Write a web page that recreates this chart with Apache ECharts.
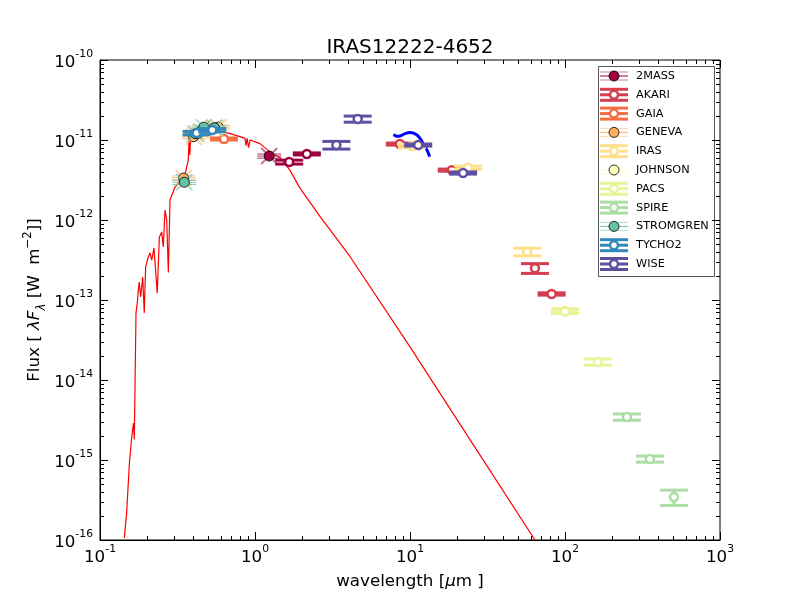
<!DOCTYPE html>
<html>
<head>
<meta charset="utf-8">
<script src="https://cdn.jsdelivr.net/npm/echarts@6/dist/echarts.min.js"></script>
<style>
  html, body { margin: 0; background: #fff; }
  #main { width: 800px; height: 600px; }
</style>
</head>
<body>
<div id="main"></div>
<script>
// photometry: wavelength [um], flux [W m-2], flux error, fitted (1 = open symbol)
const surveys = ["2MASS", "AKARI", "GAIA", "GENEVA", "IRAS", "JOHNSON", "PACS", "SPIRE", "STROMGREN", "TYCHO2", "WISE"];
const colors = ["#9e0142", "#d53e4f", "#f46d43", "#fdae61", "#fee08b", "#ffffbf", "#e6f598", "#abdda4", "#66c2a5", "#3288bd", "#5e4fa2"];

const wave2mass = [1.235, 1.662, 2.159];
const flux2mass = [6.3e-12, 5.3e-12, 6.7e-12];
const err2mass = [0.38e-12, 0.3e-12, 0.2e-12];
const fit2mass = [0, 1, 1];

const waveAkari = [8.6, 18.6, 64, 82];
const fluxAkari = [8.9e-12, 4.2e-12, 2.5e-13, 1.19e-13];
const errAkari = [0.27e-12, 0.13e-12, 0.35e-13, 0.04e-13];
const fitAkari = [1, 1, 1, 1];

const waveGaia = [0.505, 0.631];
const fluxGaia = [1.35e-11, 1.03e-11];
const errGaia = [0.04e-11, 0.03e-11];
const fitGaia = [1, 1];

const waveGeneva = [0.346, 0.402, 0.423, 0.448, 0.54, 0.551, 0.58];
const fluxGeneva = [3.35e-12, 1.1e-11, 1.2e-11, 1.3e-11, 1.41e-11, 1.41e-11, 1.45e-11];
const errGeneva = [0.2e-12, 0.06e-11, 0.06e-11, 0.07e-11, 0.08e-11, 0.08e-11, 0.08e-11];
const fitGeneva = [0, 0, 0, 0, 0, 0, 0];

const waveIras = [10.3, 23.7, 57, 100];
const fluxIras = [8.4e-12, 4.5e-12, 4.0e-13, 7.3e-14];
const errIras = [0.4e-12, 0.22e-12, 0.44e-13, 0.44e-14];
const fitIras = [1, 1, 1, 1];

const waveJohnson = [0.44, 0.55];
const fluxJohnson = [1.25e-11, 1.4e-11];
const errJohnson = [0.07e-11, 0.08e-11];
const fitJohnson = [0, 0];

const wavePacs = [100, 163];
const fluxPacs = [7.2e-14, 1.68e-14];
const errPacs = [0.36e-14, 0.15e-14];
const fitPacs = [1, 1];

const waveSpire = [251, 353, 505];
const fluxSpire = [3.45e-15, 1.03e-15, 3.45e-16];
const errSpire = [0.31e-15, 0.09e-15, 0.75e-16];
const fitSpire = [1, 1, 1];

const waveStromgren = [0.35, 0.411, 0.467, 0.547];
const fluxStromgren = [2.96e-12, 1.2e-11, 1.45e-11, 1.42e-11];
const errStromgren = [0.18e-12, 0.07e-11, 0.08e-11, 0.08e-11];
const fitStromgren = [0, 0, 0, 0];

const waveTycho = [0.42, 0.53];
const fluxTycho = [1.22e-11, 1.33e-11];
const errTycho = [0.06e-11, 0.06e-11];
const fitTycho = [1, 1];

const waveWise = [3.35, 4.6, 11.3, 22];
const fluxWise = [8.65e-12, 1.83e-11, 8.65e-12, 3.87e-12];
const errWise = [0.95e-12, 0.16e-11, 0.26e-12, 0.12e-12];
const fitWise = [1, 1, 1, 1];

// model SED (red) and IR spectrum (blue)
const modelWave = [0.1435, 0.1486, 0.1545, 0.160, 0.163, 0.1645, 0.1665, 0.1707, 0.174, 0.1765, 0.179, 0.183, 0.1886, 0.193, 0.197, 0.205, 0.210, 0.2157, 0.223, 0.229, 0.234, 0.2415, 0.250, 0.256, 0.2627, 0.2694, 0.276, 0.283, 0.2944, 0.305, 0.315, 0.328, 0.353, 0.371, 0.377, 0.380, 0.385, 0.41, 0.44, 0.51, 0.59, 0.69, 0.80, 0.862, 0.875, 0.89, 0.91, 0.93, 0.956, 1.077, 1.25, 1.45, 1.68, 1.95, 2.63, 4.10, 10, 28.3, 64];
const modelFlux = [1.06e-16, 2.2e-16, 8.7e-16, 1.9e-15, 1.8e-15, 2.9e-15, 1.8e-15, 6.9e-14, 9.2e-14, 1.3e-13, 1.68e-13, 1.09e-13, 1.94e-13, 6.9e-14, 2.59e-13, 3.45e-13, 3.87e-13, 3.16e-13, 4.47e-13, 4.6e-13, 1.22e-13, 6.1e-13, 7.1e-13, 4.6e-13, 1.33e-12, 1.0e-12, 2.2e-13, 1.78e-12, 2.17e-12, 2.59e-12, 2.74e-12, 3.16e-12, 3.65e-12, 5.6e-12, 1.22e-11, 6.5e-12, 1.2e-11, 1.3e-11, 1.4e-11, 1.45e-11, 1.3e-11, 1.2e-11, 1.1e-11, 1.05e-11, 8.5e-12, 1.05e-11, 8.0e-12, 1.0e-11, 9.5e-12, 9.0e-12, 7.1e-12, 6.0e-12, 4.2e-12, 2.5e-12, 1.1e-12, 3.5e-13, 2.6e-14, 1.15e-15, 1e-16];
const irsWave = [7.8, 8.0, 8.3, 8.7, 9.3, 10, 10.6, 11.3, 11.8, 12.3, 12.9, 13.4];
const irsFlux = [1.16e-11, 1.14e-11, 1.11e-11, 1.13e-11, 1.2e-11, 1.24e-11, 1.21e-11, 1.12e-11, 1.0e-11, 8.7e-12, 7.4e-12, 6.2e-12];

// ticks
const xMajor = [0.1, 1, 10, 100, 1000];
const yMajor = [1e-16, 1e-15, 1e-14, 1e-13, 1e-12, 1e-11, 1e-10];

const phot = [
  [wave2mass, flux2mass, err2mass, fit2mass],
  [waveAkari, fluxAkari, errAkari, fitAkari],
  [waveGaia, fluxGaia, errGaia, fitGaia],
  [waveGeneva, fluxGeneva, errGeneva, fitGeneva],
  [waveIras, fluxIras, errIras, fitIras],
  [waveJohnson, fluxJohnson, errJohnson, fitJohnson],
  [wavePacs, fluxPacs, errPacs, fitPacs],
  [waveSpire, fluxSpire, errSpire, fitSpire],
  [waveStromgren, fluxStromgren, errStromgren, fitStromgren],
  [waveTycho, fluxTycho, errTycho, fitTycho],
  [waveWise, fluxWise, errWise, fitWise],
];

const font = "DejaVu Sans";

function minorOf(major) {
  let out = [];
  for (let i = 0; i < major.length - 1; i++) {
    for (let k = 2; k <= 9; k++) out.push(major[i] * k);
  }
  return out;
}

function photRender(color) {
  return function (params, api) {
    const w = api.value(0), f = api.value(1), e = api.value(2), fit = api.value(3);
    const p = api.coord([w, f]);
    const top = api.coord([w, f + e])[1];
    const bot = api.coord([w, f - e])[1];
    const kids = [];
    if (fit) {
      const st = { stroke: color, lineWidth: 3 };
      kids.push({ type: "line", shape: { x1: p[0], y1: top, x2: p[0], y2: bot }, style: st });
      kids.push({ type: "line", shape: { x1: p[0] - 14, y1: top, x2: p[0] + 14, y2: top }, style: st });
      kids.push({ type: "line", shape: { x1: p[0] - 14, y1: bot, x2: p[0] + 14, y2: bot }, style: st });
      kids.push({ type: "circle", shape: { cx: p[0], cy: p[1], r: 4 }, style: { fill: "#fff", stroke: color, lineWidth: 2.5 } });
    } else {
      const st = { stroke: color, lineWidth: 1, opacity: 0.8 };
      const xs = { stroke: color, lineWidth: 2, opacity: 0.55 };
      kids.push({ type: "line", shape: { x1: p[0] - 8, y1: p[1] - 8, x2: p[0] + 8, y2: p[1] + 8 }, style: xs });
      kids.push({ type: "line", shape: { x1: p[0] - 8, y1: p[1] + 8, x2: p[0] + 8, y2: p[1] - 8 }, style: xs });
      kids.push({ type: "line", shape: { x1: p[0] - 12, y1: p[1], x2: p[0] + 12, y2: p[1] }, style: st });
      kids.push({ type: "line", shape: { x1: p[0] - 12, y1: top, x2: p[0] + 12, y2: top }, style: st });
      kids.push({ type: "line", shape: { x1: p[0] - 12, y1: bot, x2: p[0] + 12, y2: bot }, style: st });
      kids.push({ type: "circle", shape: { cx: p[0], cy: p[1], r: 5 }, style: { fill: color, stroke: "#000", lineWidth: 0.8 } });
    }
    return { type: "group", children: kids };
  };
}

function xTickRender(params, api) {
  const cs = params.coordSys;
  const px = Math.round(api.coord([api.value(0), 1e-13])[0]) + 0.5;
  const len = api.value(2) ? 8 : 4;
  const st = { stroke: "#000", lineWidth: 1 };
  return {
    type: "group",
    children: [
      { type: "line", shape: { x1: px, y1: cs.y + cs.height, x2: px, y2: cs.y + cs.height - len }, style: st },
      { type: "line", shape: { x1: px, y1: cs.y, x2: px, y2: cs.y + len }, style: st },
    ],
  };
}

function yTickRender(params, api) {
  const cs = params.coordSys;
  const py = Math.round(api.coord([1, api.value(1)])[1]) + 0.5;
  const len = api.value(2) ? 8 : 4;
  const st = { stroke: "#000", lineWidth: 1 };
  return {
    type: "group",
    children: [
      { type: "line", shape: { x1: cs.x, y1: py, x2: cs.x + len, y2: py }, style: st },
      { type: "line", shape: { x1: cs.x + cs.width, y1: py, x2: cs.x + cs.width - len, y2: py }, style: st },
    ],
  };
}

function powLabel(v) {
  const e = Math.round(Math.log10(v));
  return "{b|10}{s|" + e + "}";
}

const powRich = {
  b: { fontSize: 16.7, fontFamily: font, color: "#000", verticalAlign: "bottom", lineHeight: 22 },
  s: { fontSize: 10.8, fontFamily: font, color: "#000", verticalAlign: "top", lineHeight: 11 },
};

const chart = echarts.init(document.getElementById("main"));

let series = [];

series.push({
  type: "line",
  data: modelWave.map((w, i) => [w, modelFlux[i]]),
  showSymbol: false,
  lineStyle: { color: "#ff0000", width: 1.2 },
  silent: true,
  z: 2,
});
series.push({
  type: "line",
  data: irsWave.map((w, i) => [w, irsFlux[i]]),
  showSymbol: false,
  smooth: 0.3,
  lineStyle: { color: "#0000ff", width: 3 },
  silent: true,
  z: 2,
});

surveys.forEach((name, k) => {
  const d = phot[k];
  series.push({
    name: name,
    type: "custom",
    renderItem: photRender(colors[k]),
    data: d[0].map((w, i) => [w, d[1][i], d[2][i], d[3][i]]),
    clip: false,
    silent: true,
    z: 3,
  });
});

series.push({
  type: "custom",
  renderItem: xTickRender,
  data: xMajor.map((v) => [v, 1e-13, 1]).concat(minorOf(xMajor).map((v) => [v, 1e-13, 0])),
  clip: false,
  silent: true,
  z: 5,
});
series.push({
  type: "custom",
  renderItem: yTickRender,
  data: yMajor.map((v) => [1, v, 1]).concat(minorOf(yMajor).map((v) => [1, v, 0])),
  clip: false,
  silent: true,
  z: 5,
});

// legend box
let legendKids = [
  { type: "rect", shape: { x: 598.5, y: 66.5, width: 116, height: 210 }, style: { fill: "#fff", stroke: "#555", lineWidth: 1 } },
];
surveys.forEach((name, i) => {
  const y = 76 + 18.8 * i;
  const c = colors[i];
  const open = phot[i][3][0] === 1;
  if (open) {
    const st = { stroke: c, lineWidth: 3 };
    legendKids.push({ type: "line", shape: { x1: 600, y1: y, x2: 628, y2: y }, style: st });
    legendKids.push({ type: "line", shape: { x1: 600, y1: y - 5.5, x2: 628, y2: y - 5.5 }, style: st });
    legendKids.push({ type: "line", shape: { x1: 600, y1: y + 5.5, x2: 628, y2: y + 5.5 }, style: st });
    legendKids.push({ type: "circle", shape: { cx: 614, cy: y, r: 4 }, style: { fill: "#fff", stroke: c, lineWidth: 2.5 } });
  } else {
    legendKids.push({ type: "line", shape: { x1: 600, y1: y, x2: 628, y2: y }, style: { stroke: c, lineWidth: 1 } });
    legendKids.push({ type: "line", shape: { x1: 600, y1: y - 4, x2: 628, y2: y - 4 }, style: { stroke: c, lineWidth: 1, opacity: 0.5 } });
    legendKids.push({ type: "line", shape: { x1: 600, y1: y + 4, x2: 628, y2: y + 4 }, style: { stroke: c, lineWidth: 1, opacity: 0.5 } });
    legendKids.push({ type: "circle", shape: { cx: 614, cy: y, r: 5 }, style: { fill: c, stroke: "#000", lineWidth: 0.8 } });
  }
  legendKids.push({
    type: "text",
    style: { x: 636, y: y, text: name, fill: "#000", font: "11.3px " + font, verticalAlign: "middle" },
  });
});

const option = {
  animation: false,
  backgroundColor: "#fff",
  title: {
    text: "IRAS12222-4652",
    left: 410,
    top: 38,
    textAlign: "center",
    padding: 0,
    textStyle: { fontFamily: font, fontSize: 20, fontWeight: "normal", color: "#000" },
  },
  grid: {
    left: 100, top: 60, width: 620, height: 480,
    show: true, borderColor: "#000", borderWidth: 1,
    outerBoundsMode: "none",
  },
  xAxis: {
    type: "log",
    logBase: 10,
    min: 0.1,
    max: 1000,
    name: "wavelength [{i|\u03bc}m ]",
    nameLocation: "middle",
    nameGap: 33,
    nameMoveOverlap: false,
    nameTextStyle: {
      fontFamily: font, fontSize: 16.7, color: "#000",
      rich: { i: { fontFamily: font, fontSize: 16.7, fontStyle: "italic", color: "#000" } },
    },
    axisLine: { show: true, lineStyle: { color: "#000", width: 1 } },
    axisTick: { show: false },
    splitLine: { show: false },
    axisLabel: { formatter: powLabel, rich: powRich, margin: 4, showMinLabel: true, showMaxLabel: true },
  },
  yAxis: {
    type: "log",
    logBase: 10,
    min: 1e-16,
    max: 1e-10,
    name: "Flux [ {i|\u03bbF}{sub|\u03bb}{n| [W  m}{sup|\u22122}{n|]]}",
    nameLocation: "middle",
    nameRotate: 90,
    nameGap: 52,
    nameMoveOverlap: false,
    nameTextStyle: {
      fontFamily: font, fontSize: 16.7, color: "#000",
      rich: {
        n: { fontFamily: font, fontSize: 16.7, color: "#000" },
        i: { fontFamily: font, fontSize: 16.7, fontStyle: "italic", color: "#000" },
        sub: { fontFamily: font, fontSize: 11.7, fontStyle: "italic", color: "#000", verticalAlign: "bottom", lineHeight: 26 },
        sup: { fontFamily: font, fontSize: 11.7, color: "#000", verticalAlign: "top", lineHeight: 12 },
      },
    },
    axisLine: { show: true, lineStyle: { color: "#000", width: 1 } },
    axisTick: { show: false },
    splitLine: { show: false },
    axisLabel: { formatter: powLabel, rich: powRich, margin: 7, showMinLabel: true, showMaxLabel: true },
  },
  graphic: [{ type: "group", left: 0, top: 0, z: 100, silent: true, children: legendKids, bounding: "raw" }],
  series: series,
};

chart.setOption(option);
</script>
</body>
</html>
